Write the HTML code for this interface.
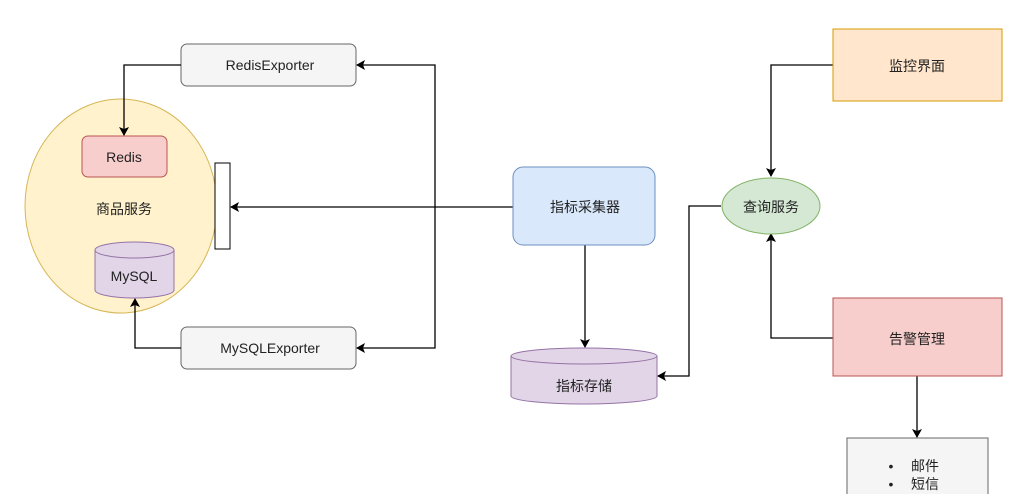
<!DOCTYPE html>
<html><head><meta charset="utf-8"><style>
body{margin:0;background:#fff;width:1026px;height:494px;overflow:hidden}
svg text{font-family:"Liberation Sans","Noto Sans CJK SC",sans-serif;font-size:14px;text-anchor:middle;dominant-baseline:central;fill:#222}
</style></head><body>
<svg width="1026" height="494" xmlns="http://www.w3.org/2000/svg">
<defs><marker id="a" markerWidth="10" markerHeight="10" refX="8" refY="5" orient="auto" markerUnits="userSpaceOnUse"><path d="M0,0 L9,5 L0,10 L2,5 Z" fill="#000"/></marker></defs>
<ellipse cx="121" cy="206" rx="96" ry="107" fill="#fff2cc" stroke="#d6b656"/>
<rect x="82" y="136" width="85" height="41" rx="6" fill="#f8cecc" stroke="#b85450"/>
<text x="124" y="157">Redis</text>
<text x="124" y="209">商品服务</text>
<path d="M95,250 v40 a39.5,8 0 0 0 79,0 v-40" fill="#e1d5e7" stroke="#9673a6"/>
<ellipse cx="134.5" cy="250" rx="39.5" ry="8" fill="#e1d5e7" stroke="#9673a6"/>
<text x="134" y="276">MySQL</text>
<rect x="215" y="163" width="15" height="86" fill="#fff" stroke="#000"/>
<rect x="181" y="44" width="175" height="42" rx="6" fill="#f5f5f5" stroke="#666"/>
<text x="270" y="65" fill="#333">RedisExporter</text>
<rect x="181" y="327" width="175" height="42" rx="6" fill="#f5f5f5" stroke="#666"/>
<text x="270" y="348" fill="#333">MySQLExporter</text>
<g fill="none" stroke="#000" stroke-width="1.3">
<path d="M181,65 H124 V135" marker-end="url(#a)"/>
<path d="M181,348 H135 V299" marker-end="url(#a)"/>
<path d="M435,207 V65 H357" marker-end="url(#a)"/>
<path d="M435,207 V348 H357" marker-end="url(#a)"/>
<path d="M513,207 H231" marker-end="url(#a)"/>
<path d="M585,245 V347" marker-end="url(#a)"/>
<path d="M721,206 H689 V376 H658" marker-end="url(#a)"/>
<path d="M833,65 H771 V176" marker-end="url(#a)"/>
<path d="M833,338 H771 V234" marker-end="url(#a)"/>
<path d="M917,376 V437" marker-end="url(#a)"/>
</g>
<rect x="513" y="167" width="142" height="78" rx="10" fill="#dae8fc" stroke="#6c8ebf"/>
<text x="585" y="207">指标采集器</text>
<path d="M511,356 v40 a73,8 0 0 0 146,0 v-40" fill="#e1d5e7" stroke="#9673a6"/>
<ellipse cx="584" cy="356" rx="73" ry="8" fill="#e1d5e7" stroke="#9673a6"/>
<text x="584" y="386">指标存储</text>
<ellipse cx="771" cy="206" rx="49" ry="28" fill="#d5e8d4" stroke="#82b366"/>
<text x="771" y="207">查询服务</text>
<rect x="833" y="29" width="169" height="72" fill="#ffe6cc" stroke="#d79b00"/>
<text x="917" y="66">监控界面</text>
<rect x="833" y="298" width="169" height="78" fill="#f8cecc" stroke="#b85450"/>
<text x="917" y="339">告警管理</text>
<rect x="847" y="438" width="141" height="70" fill="#f5f5f5" stroke="#666"/>
<text x="891" y="466">•</text><text x="925" y="466">邮件</text>
<text x="891" y="484">•</text><text x="925" y="484">短信</text>
</svg>
</body></html>
